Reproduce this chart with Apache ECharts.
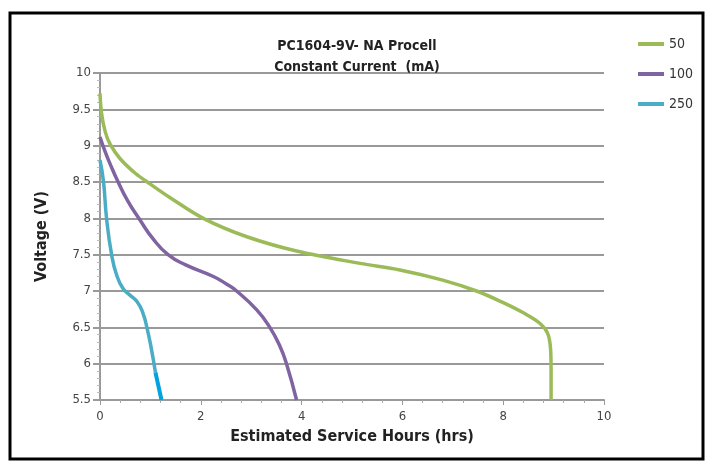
<!DOCTYPE html>
<html><head><meta charset="utf-8">
<script src="https://cdn.jsdelivr.net/npm/echarts@6/dist/echarts.min.js"></script>
<style>html,body{margin:0;padding:0;background:#fff}#c{width:710px;height:463px}</style>
</head><body><div id="c"></div>
<script>
const seriesNames = ['50', '100', '250'];
const s50 = [[0,9.72],[0.03,9.45],[0.1,9.2],[0.2,9.02],[0.4,8.82],[0.7,8.62],[1.0,8.47],[1.4,8.28],[2.05,8.0],[2.9,7.75],[3.9,7.55],[5.16,7.38],[5.95,7.29],[6.8,7.15],[7.47,7.0],[8.0,6.84],[8.4,6.7],[8.72,6.56],[8.88,6.42],[8.94,6.2],[8.95,5.9],[8.95,5.5]];
const s100 = [[0,9.12],[0.1,8.92],[0.2,8.75],[0.36,8.5],[0.55,8.24],[0.79,7.98],[1.05,7.72],[1.35,7.5],[1.7,7.36],[2.25,7.2],[2.5,7.1],[2.71,7.0],[3.11,6.74],[3.37,6.5],[3.57,6.24],[3.7,6.0],[3.9,5.5]];
const s250 = [[0,8.8],[0.07,8.5],[0.13,8.0],[0.23,7.5],[0.33,7.22],[0.46,7.03],[0.6,6.94],[0.74,6.85],[0.85,6.7],[0.93,6.5],[1.02,6.2],[1.1,5.88]];
const s250tail = [[1.1,5.88],[1.22,5.5]];
const titleLines = ['PC1604-9V- NA Procell', 'Constant Current  (mA)'];
const xName = 'Estimated Service Hours (hrs)';
const yName = 'Voltage (V)';

const FONT = "'Liberation Sans Narrow','DejaVu Sans Condensed','Liberation Sans',sans-serif";
const colors = ['#9bbb59', '#8064a2', '#4bacc6'];
const chart = echarts.init(document.getElementById('c'));
function line(name, data, color, smooth) {
  return {name, type:'line', data, smooth, showSymbol:false, symbol:'none',
    lineStyle:{color, width:3.5}, itemStyle:{color}, z:3};
}
chart.setOption({
  animation:false,
  backgroundColor:'#fff',
  title:{text:titleLines.join('\n'), left:352, textAlign:'center', top:31,
    textStyle:{fontFamily:FONT, fontSize:14, fontWeight:'bold', color:'#222', lineHeight:21}},
  legend:{data:seriesNames, orient:'vertical', left:633, top:32, itemGap:16,
    itemWidth:26, itemHeight:4, icon:'rect',
    textStyle:{fontFamily:FONT, fontSize:14, color:'#333'}},
  grid:{left:100, right:106, top:73, bottom:63},
  xAxis:{type:'value', min:0, max:10, interval:2,
    name:xName, nameLocation:'middle', nameGap:29,
    nameTextStyle:{fontFamily:FONT, fontSize:16, fontWeight:'bold', color:'#222'},
    axisLine:{lineStyle:{color:'#999', width:2}},
    axisTick:{show:true, length:5, lineStyle:{color:'#999'}},
    minorTick:{show:true, splitNumber:5, length:3, lineStyle:{color:'#aaa'}},
    splitLine:{show:false},
    axisLabel:{fontFamily:FONT, fontSize:13, color:'#444', margin:10}},
  yAxis:{type:'value', min:5.5, max:10, interval:0.5,
    name:yName, nameLocation:'middle', nameGap:50, nameRotate:90,
    nameTextStyle:{fontFamily:FONT, fontSize:16, fontWeight:'bold', color:'#222'},
    axisLine:{show:true, lineStyle:{color:'#999', width:2}},
    axisTick:{show:true, length:7, lineStyle:{color:'#999', width:2}},
    minorTick:{show:true, splitNumber:5, length:3, lineStyle:{color:'#bbb'}},
    splitLine:{show:true, lineStyle:{color:'#999', width:2}},
    axisLabel:{fontFamily:FONT, fontSize:13, color:'#444', margin:9}},
  graphic:[{type:'rect', shape:{x:10, y:13, width:693, height:446},
    style:{fill:null, stroke:'#000', lineWidth:3}, z:10}],
  series:[
    line(seriesNames[0], s50, colors[0], 0.35),
    line(seriesNames[1], s100, colors[1], 0.5),
    line(seriesNames[2], s250, colors[2], 0.5),
    {name:'250 end', type:'line', data:s250tail, showSymbol:false, symbol:'none',
      lineStyle:{color:'#00a2e0', width:4}, z:3}
  ]
});
</script></body></html>
